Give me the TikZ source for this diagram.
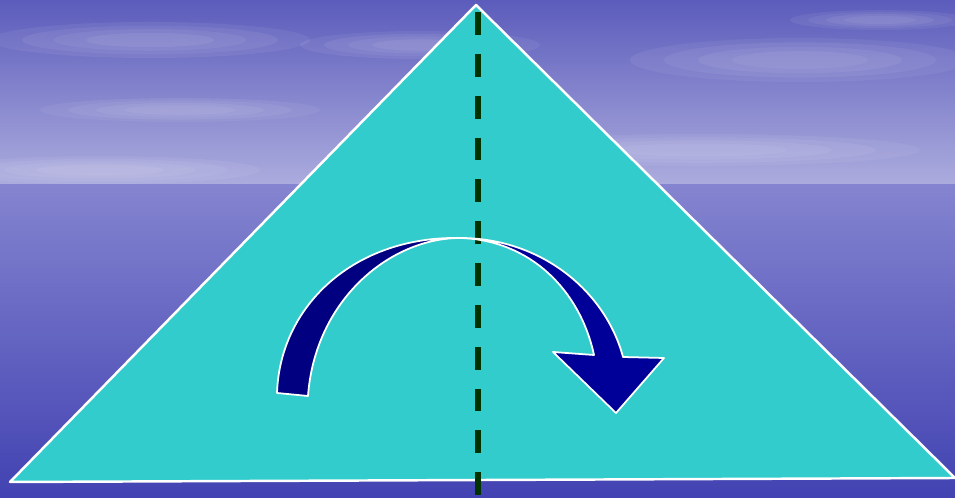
\documentclass[tikz,border=0pt]{standalone}
\usepackage{xcolor}
\definecolor{skytop}{RGB}{92,92,188}
\definecolor{skyhaze}{RGB}{172,172,222}
\definecolor{seatop}{RGB}{132,132,208}
\definecolor{seabot}{RGB}{66,66,178}
\definecolor{foldcyan}{RGB}{51,204,204}
\definecolor{foldgreen}{RGB}{0,51,0}
\definecolor{arrnavy}{RGB}{0,0,128}
\definecolor{arrblue}{RGB}{0,0,153}
\usepackage{tikz}
\usetikzlibrary{calc}

\tikzset{
  cloud/.style={white, opacity=0.06},
  foldline/.style={foldgreen, line width=1.7pt, dash pattern=on 6.5pt off 5.4pt},
  arrband/.style={draw=white, line width=0.5pt, line join=round}
}

\begin{document}
\begin{tikzpicture}[x=0.01cm, y=-0.01cm]
  \useasboundingbox (0,0) rectangle (955,498);

  % --- Background: sky and sea ---
  \shade[top color=skytop, bottom color=skyhaze] (0,0) rectangle (955,185);
  \shade[top color=seatop, bottom color=seabot] (0,185) rectangle (955,498);
  % soft clouds
  \foreach \cx/\cy/\rx/\ry in {150/40/160/18, 420/45/120/14, 800/60/170/22,
      180/110/140/12, 700/150/220/16, 100/170/160/14, 880/20/90/10}
    \foreach \s in {1.0,0.8,0.6,0.4}
      \fill[cloud] (\cx,\cy) ellipse ({\rx*\s} and {\ry*\s});

  % --- Triangle ---
  \coordinate (left) at (10,482);
  \coordinate (apex) at (476,5);
  \coordinate (right) at (955,478);
  \filldraw[fill=foldcyan, draw=white, line width=0.7pt, line join=round]
    (left) -- (apex) -- (right) -- cycle;

  % --- Fold line ---
  \coordinate (foldtop) at (478,12);
  \coordinate (foldbot) at (478,498);
  \draw[foldline] (foldtop) -- (foldbot);

  % --- Curved arrow ---
  \coordinate (peak) at (460,238);
  % left half
  \filldraw[arrband, fill=arrnavy]
    (277,393) .. controls (280,305) and (355,236) .. (peak)
    .. controls (390,238) and (315,300) .. (308,396) -- cycle;
  % right half with head
  \filldraw[arrband, fill=arrblue]
    (peak) .. controls (540,238) and (605,290) .. (623,357)
    -- (664,358) -- (616,413) -- (553,352) -- (594,355)
    .. controls (580,290) and (530,240) .. (peak) -- cycle;
\end{tikzpicture}
\end{document}
